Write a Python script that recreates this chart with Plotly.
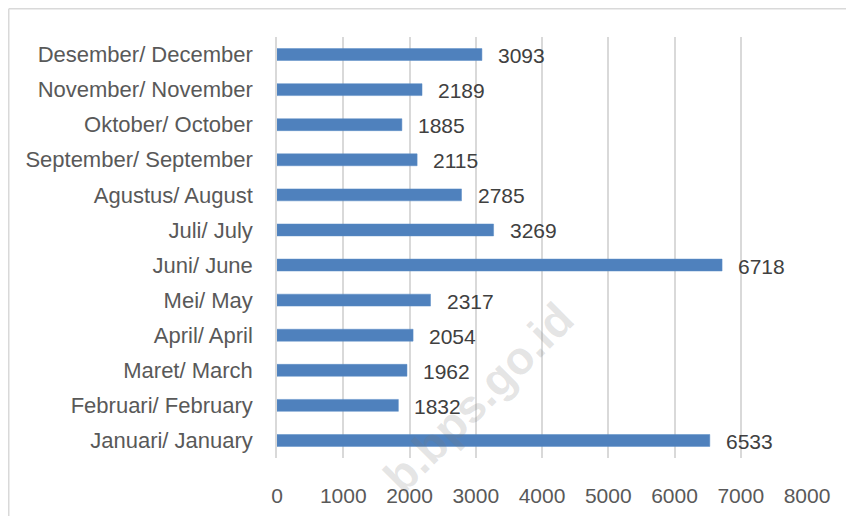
import plotly.graph_objects as go

months = ["Januari/ January", "Februari/ February", "Maret/ March", "April/ April",
          "Mei/ May", "Juni/ June", "Juli/ July", "Agustus/ August",
          "September/ September", "Oktober/ October", "November/ November",
          "Desember/ December"]
values = [6533, 1832, 1962, 2054, 2317, 6718, 3269, 2785, 2115, 1885, 2189, 3093]
x_ticks = [0, 1000, 2000, 3000, 4000, 5000, 6000, 7000, 8000]

# page body has an 8px margin, so the figure is sized to fill the rest
W, H = 846, 508
ml, mr, mt, mb = 269, 47, 29, 58
pw, ph = W - ml - mr, H - mt - mb

fig = go.Figure()
fig.add_trace(go.Bar(
    x=values, y=months, orientation="h",
    marker=dict(color="#4f81bd", line=dict(color="#5b8cc6", width=0.5)),
    hoverinfo="x+y",
))

annotations = []
for v, m in zip(values, months):
    annotations.append(dict(
        x=v, y=m, xref="x", yref="y", text=str(v), showarrow=False,
        xanchor="left", yanchor="middle", xshift=14, yshift=-1,
        font=dict(family="Liberation Sans", size=21, color="#404040"),
    ))

# watermark
annotations.append(dict(
    x=(470 - ml) / pw, y=1 - (390 - mt) / ph, xref="paper", yref="paper",
    xanchor="center", yanchor="middle",
    text="<b>b.bps.go.id</b>", showarrow=False, textangle=-45,
    font=dict(family="Liberation Sans", size=46, color="rgba(120,120,120,0.2)"),
))

fig.update_layout(
    width=W, height=H,
    margin=dict(l=ml, r=mr, t=mt, b=mb, autoexpand=False),
    paper_bgcolor="white", plot_bgcolor="white",
    bargap=0.66,
    showlegend=False,
    font=dict(family="Liberation Sans", size=21, color="#595959"),
    annotations=annotations,
    xaxis=dict(
        range=[0, 8000], tickvals=x_ticks, ticktext=[str(t) for t in x_ticks],
        showgrid=True, gridcolor="#d9d9d9", gridwidth=1.5, zeroline=False,
        showline=False, ticks="outside", ticklen=19, tickcolor="rgba(0,0,0,0)",
        tickfont=dict(family="Liberation Sans", size=21, color="#595959"),
        fixedrange=True,
    ),
    yaxis=dict(
        showgrid=False, showline=True, linecolor="#d9d9d9", linewidth=1.5,
        ticks="outside", ticklen=18, tickcolor="rgba(0,0,0,0)",
        tickfont=dict(family="Liberation Sans", size=22, color="#595959"),
        fixedrange=True,
    ),
    shapes=[
        dict(type="line", xref="paper", yref="paper",
             x0=(0.75 - ml) / pw, x1=(W + 5 - ml) / pw,
             y0=1 + (mt - 0.75) / ph, y1=1 + (mt - 0.75) / ph,
             line=dict(color="#d9d9d9", width=1.5)),
        dict(type="line", xref="paper", yref="paper",
             x0=(0.75 - ml) / pw, x1=(0.75 - ml) / pw,
             y0=1 + (mt - 0.75) / ph, y1=-(mb + 5) / ph,
             line=dict(color="#d9d9d9", width=1.5)),
    ],
)

fig.write_html("out.html")
